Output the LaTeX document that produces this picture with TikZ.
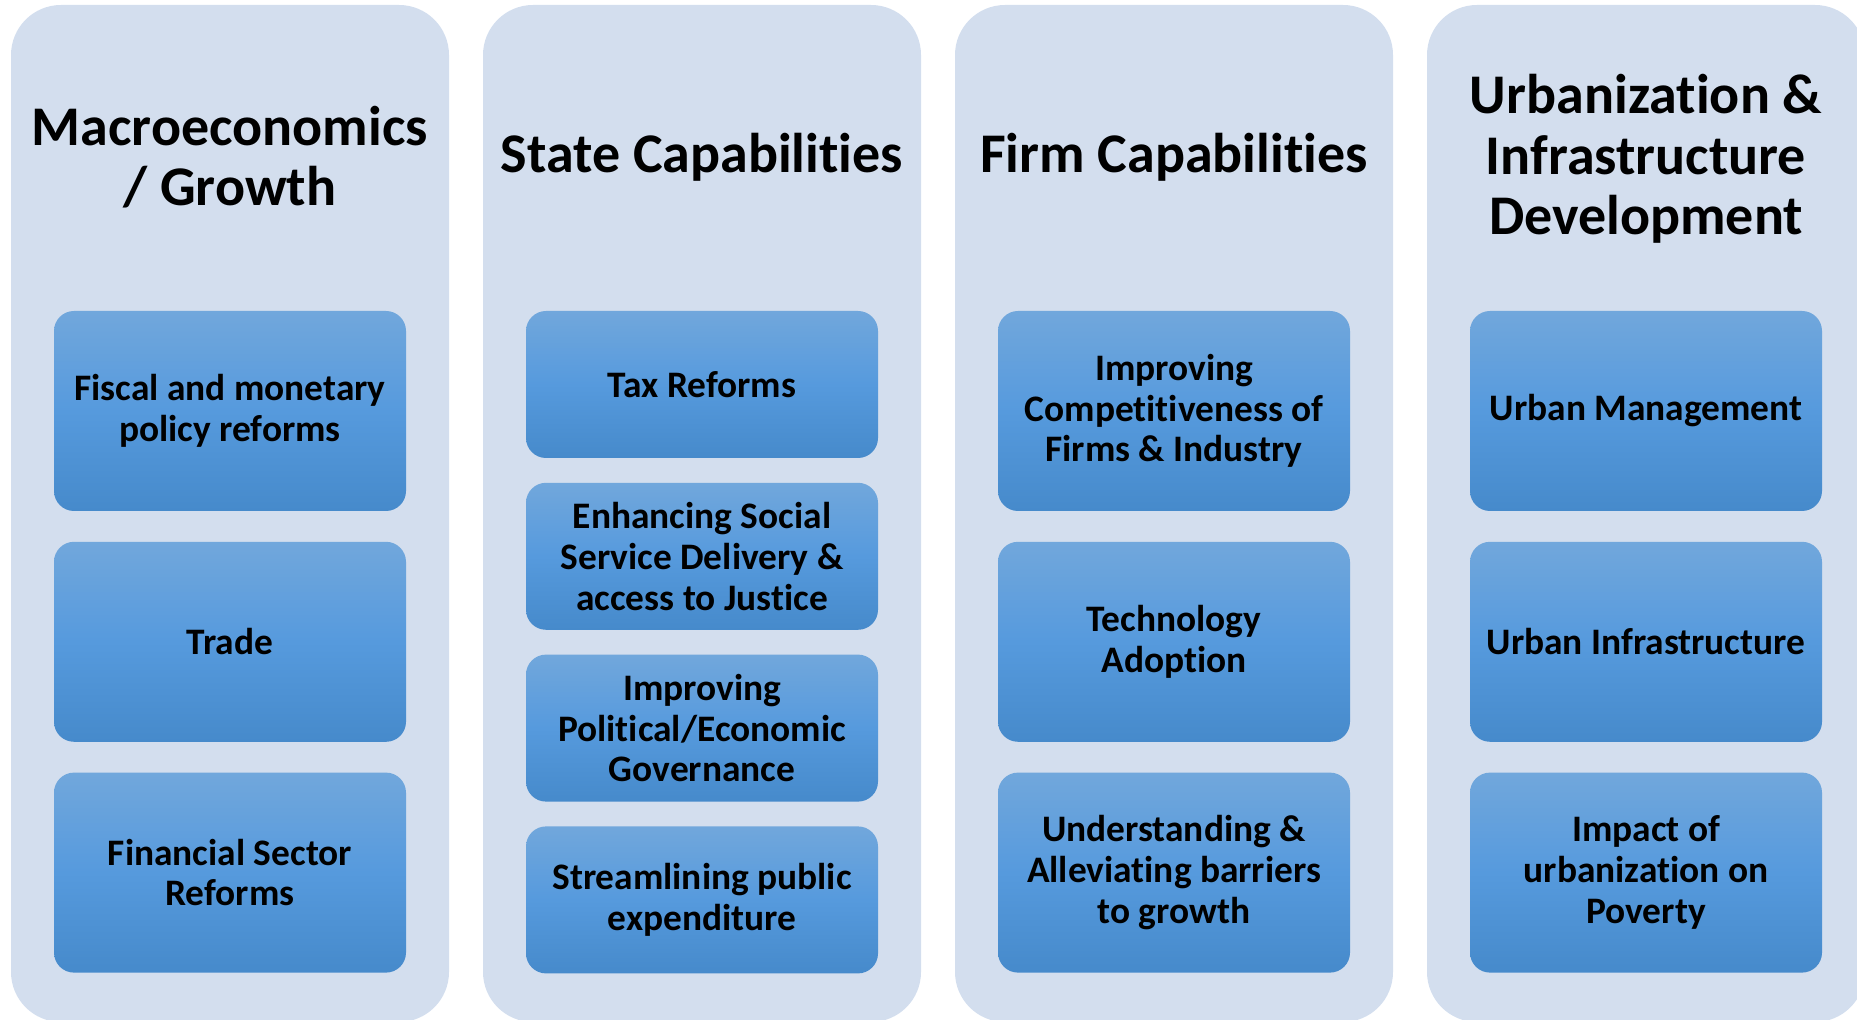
\documentclass[tikz,border=0pt]{standalone}
\usepackage{fontspec}
\setmainfont[Ligatures=NoCommon]{Carlito}
\usetikzlibrary{positioning}
\definecolor{colBg}{RGB}{211,222,238}
\definecolor{boxTop}{RGB}{113,167,220}
\definecolor{boxMid}{RGB}{86,154,221}
\definecolor{boxBot}{RGB}{70,138,203}
\tikzstyle{colNode} = [rectangle, minimum width=219pt, minimum height=508.5pt, rounded corners=25pt, fill=colBg, inner sep=0pt]
\tikzstyle{titleNode} = [align=center, font=\fontsize{28}{30.3}\selectfont\bfseries, text=black]
\tikzstyle{recNode} = [rectangle, minimum width=176pt, minimum height=100pt, align=center, rounded corners=10pt, top color=boxTop, bottom color=boxBot, middle color=boxMid, font=\fontsize{18.7}{20.4}\selectfont\bfseries, inner sep=0pt]
\tikzstyle{recNodeS} = [recNode, minimum height=73.5pt]

\begin{document}
\begin{tikzpicture}[x=0.5pt, y=-0.5pt, node distance=15pt]
        \useasboundingbox (0,0) rectangle (1857,1020);
        \clip (0,0) rectangle (1857,1020);
        % columns
        \node (colMacro) [colNode] at (230,513.5) {};
        \node (colState) [colNode] at (702,513.5) {};
        \node (colFirm) [colNode] at (1174,513.5) {};
        \node (colUrban) [colNode] at (1646,513.5) {};

        % titles
        \node (macro) [titleNode] at (230,157) {Macroeconomics\\/ Growth};
        \node (state) [titleNode] at (702,157) {State Capabilities};
        \node (firm) [titleNode] at (1174,157) {Firm Capabilities};
        \node (urban) [titleNode] at (1646,159) {Urbanization \&\\Infrastructure\\Development};

        % macro boxes
        \node (fiscal) [recNode] at (230,411) {Fiscal and monetary\\policy reforms};
        \node (trade) [recNode, below=of fiscal] {Trade};
        \node (finance) [recNode, below=of trade] {Financial Sector\\Reforms};

        % state boxes
        \node (tax) [recNodeS] at (702,384.5) {Tax Reforms};
        \node (social) [recNodeS, below=12pt of tax] {Enhancing Social\\Service Delivery \&\\access to Justice};
        \node (govern) [recNodeS, below=12pt of social] {Improving\\Political/Economic\\Governance};
        \node (spend) [recNodeS, below=12pt of govern] {Streamlining public\\expenditure};

        % firm boxes
        \node (compete) [recNode] at (1174,411) {Improving\\Competitiveness of\\Firms \& Industry};
        \node (tech) [recNode, below=of compete] {Technology\\Adoption};
        \node (barrier) [recNode, below=of tech] {Understanding \&\\Alleviating barriers\\to growth};

        % urban boxes
        \node (manage) [recNode] at (1646,411) {Urban Management};
        \node (infra) [recNode, below=of manage] {Urban Infrastructure};
        \node (poverty) [recNode, below=of infra] {Impact of\\urbanization on\\Poverty};
\end{tikzpicture}
\end{document}
